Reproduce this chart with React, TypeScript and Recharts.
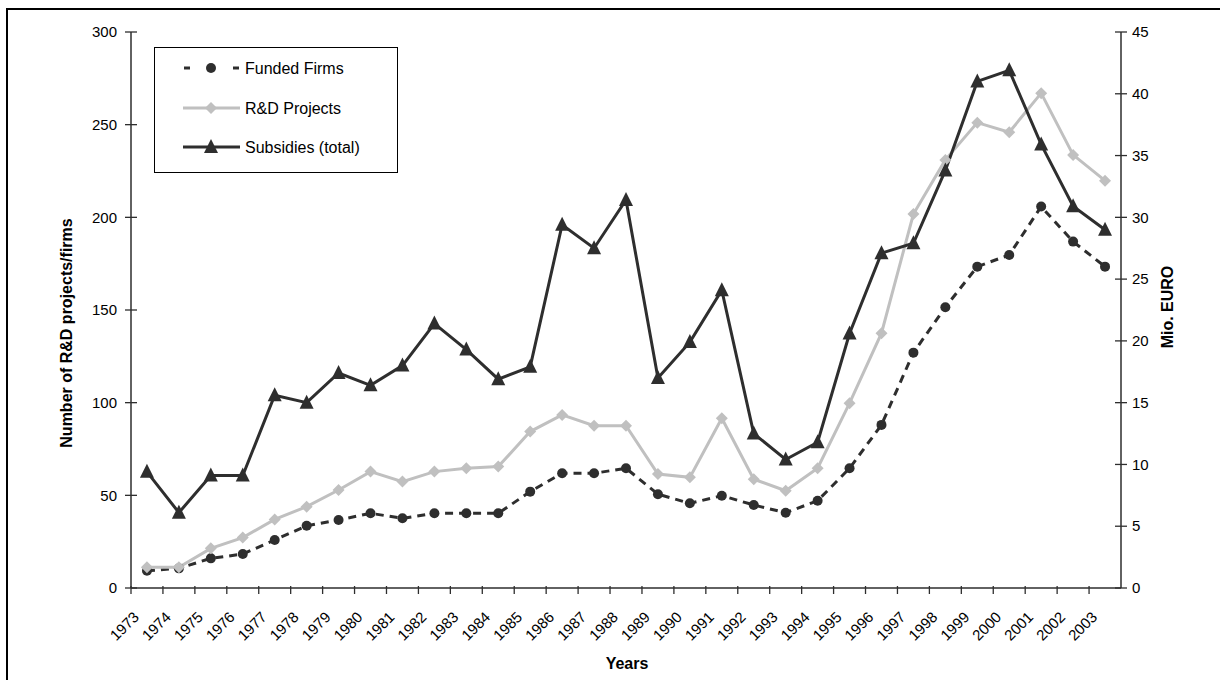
import { LineChart, Line, XAxis, YAxis } from "recharts";

const YEARS = [
  "1973", "1974", "1975", "1976", "1977", "1978", "1979", "1980", "1981", "1982", "1983",
  "1984", "1985", "1986", "1987", "1988", "1989", "1990", "1991", "1992", "1993", "1994",
  "1995", "1996", "1997", "1998", "1999", "2000", "2001", "2002", "2003",
];

// left axis: number of firms / projects
const FUNDED_FIRMS = [
  9.3, 10.6, 16, 18.3, 25.9, 33.6, 36.7, 40.3, 37.6, 40.3, 40.3, 40.3, 52, 61.9, 61.9, 64.6,
  50.6, 45.7, 49.8, 44.8, 40.6, 47.1, 64.6, 88, 127, 151.5, 173.4, 179.7, 205.8, 186.9, 173.4,
];
const RD_PROJECTS = [
  11.2, 11.2, 21.4, 27.2, 37, 43.9, 52.9, 62.8, 57.4, 62.8, 64.6, 65.5, 84.4, 93.4, 87.6, 87.6,
  61.5, 59.7, 91.6, 58.7, 52.5, 64.6, 99.7, 137.5, 201.8, 231, 251.1, 245.9, 267, 233.7, 219.8,
];
// right axis: Mio. EURO
const SUBSIDIES = [
  9.4, 6.1, 9.1, 9.1, 15.6, 15.0, 17.4, 16.4, 18.0, 21.4, 19.3, 16.9, 17.9, 29.4, 27.5, 31.4,
  17.0, 19.9, 24.1, 12.5, 10.4, 11.8, 20.6, 27.1, 27.9, 33.8, 41.0, 41.9, 35.9, 30.9, 29.0,
];

const LEFT_TICKS = [0, 50, 100, 150, 200, 250, 300];
const RIGHT_TICKS = [0, 5, 10, 15, 20, 25, 30, 35, 40, 45];

const data = YEARS.map((year, i) => ({
  year,
  funded: FUNDED_FIRMS[i],
  projects: RD_PROJECTS[i],
  subsidies: SUBSIDIES[i],
}));

const FONT = "'Liberation Sans', Arial, sans-serif";
const DARK = "#2e2e2e";
const GRAY = "#c0c0c0";

const W = 1220;
const H = 680;
const MARGIN = { top: 32, right: 39, left: 71, bottom: 22 };
const PLOT_LEFT = 131;
const PLOT_RIGHT = 1121;
const PLOT_BOTTOM = 588;
const STEP = (PLOT_RIGHT - PLOT_LEFT) / YEARS.length;

const CircleDot = (p: any) =>
  p.cx == null ? null : <circle key={p.key} cx={p.cx} cy={p.cy} r={5} fill={DARK} />;

const DiamondDot = (p: any) => {
  if (p.cx == null) return null;
  const s = 6;
  return (
    <path
      key={p.key}
      d={`M${p.cx},${p.cy - s}L${p.cx + s},${p.cy}L${p.cx},${p.cy + s}L${p.cx - s},${p.cy}Z`}
      fill={GRAY}
    />
  );
};

const TriangleDot = (p: any) => {
  if (p.cx == null) return null;
  const s = 7;
  return (
    <path
      key={p.key}
      d={`M${p.cx},${p.cy - s - 1}L${p.cx + s},${p.cy + s - 1}L${p.cx - s},${p.cy + s - 1}Z`}
      fill={DARK}
    />
  );
};

function YearTick({ x, payload }: any) {
  const tx = x - 7;
  const ty = 618;
  return (
    <g>
      <line x1={x - STEP / 2} x2={x - STEP / 2} y1={PLOT_BOTTOM - 2} y2={PLOT_BOTTOM + 6} stroke={DARK} strokeWidth={1.3} />
      <text
        x={tx}
        y={ty}
        transform={`rotate(-45, ${tx}, ${ty})`}
        textAnchor="end"
        fontSize={15}
        fontFamily={FONT}
        fill="#000"
      >
        {payload.value}
      </text>
    </g>
  );
}

function LeftTick({ y, payload }: any) {
  return (
    <g>
      <line x1={PLOT_LEFT - 6} x2={PLOT_LEFT + 6} y1={y} y2={y} stroke={DARK} strokeWidth={1.3} />
      <text x={117} y={y} dy="0.35em" textAnchor="end" fontSize={15} fontFamily={FONT} fill="#000">
        {payload.value}
      </text>
    </g>
  );
}

function RightTick({ y, payload }: any) {
  return (
    <g>
      <line x1={PLOT_RIGHT - 6} x2={PLOT_RIGHT + 6} y1={y} y2={y} stroke={DARK} strokeWidth={1.3} />
      <text x={1132} y={y} dy="0.35em" textAnchor="start" fontSize={15} fontFamily={FONT} fill="#000">
        {payload.value}
      </text>
    </g>
  );
}

function LegendBox() {
  const row = (y: number, sample: any, label: string) => (
    <g>
      {sample(y)}
      <text x={91} y={y} dy="0.35em" fontSize={16} fontFamily={FONT} fill="#000">
        {label}
      </text>
    </g>
  );
  return (
    <svg width={244} height={126} style={{ display: "block" }}>
      <rect x={0.5} y={0.5} width={243} height={125} fill="#fff" stroke="#000" strokeWidth={1} />
      {row(
        21,
        (y: number) => (
          <g>
            <line x1={30} x2={36} y1={y} y2={y} stroke={DARK} strokeWidth={3} />
            <circle cx={57} cy={y} r={5} fill={DARK} />
            <line x1={79} x2={85} y1={y} y2={y} stroke={DARK} strokeWidth={3} />
          </g>
        ),
        "Funded Firms"
      )}
      {row(
        61,
        (y: number) => (
          <g>
            <line x1={29} x2={86} y1={y} y2={y} stroke={GRAY} strokeWidth={3} />
            <path d={`M57,${y - 6}L63,${y}L57,${y + 6}L51,${y}Z`} fill={GRAY} />
          </g>
        ),
        "R&D Projects"
      )}
      {row(
        100,
        (y: number) => (
          <g>
            <line x1={29} x2={86} y1={y} y2={y} stroke={DARK} strokeWidth={3} />
            <path d={`M57,${y - 8}L64,${y + 6}L50,${y + 6}Z`} fill={DARK} />
          </g>
        ),
        "Subsidies (total)"
      )}
    </svg>
  );
}

export default function App() {
  return (
    <div style={{ position: "absolute", left: 0, top: 0, width: W, height: H, overflow: "hidden", background: "#fff" }}>
      <div
        style={{
          position: "absolute",
          left: 6,
          top: 8,
          width: W,
          height: H,
          borderLeft: "2px solid #000",
          borderTop: "2px solid #000",
        }}
      />
      <div style={{ position: "absolute", left: 0, top: 0 }}>
        <LineChart width={W} height={H} data={data} margin={MARGIN}>
          <XAxis
            dataKey="year"
            scale="band"
            height={70}
            interval={0}
            tickLine={false}
            axisLine={{ stroke: DARK, strokeWidth: 1.5 }}
            tick={<YearTick />}
            label={() => (
              <text x={627} y={669} textAnchor="middle" fontSize={16} fontWeight="bold" fontFamily={FONT} fill="#000">
                Years
              </text>
            )}
          />
          <YAxis
            yAxisId="left"
            domain={[0, 300]}
            ticks={LEFT_TICKS}
            width={60}
            tickLine={false}
            axisLine={{ stroke: DARK, strokeWidth: 1.5 }}
            tick={<LeftTick />}
            label={() => (
              <text
                x={72}
                y={333}
                transform="rotate(-90, 72, 333)"
                textAnchor="middle"
                fontSize={16}
                fontWeight="bold"
                fontFamily={FONT}
                fill="#000"
              >
                Number of R&amp;D projects/firms
              </text>
            )}
          />
          <YAxis
            yAxisId="right"
            orientation="right"
            domain={[0, 45]}
            ticks={RIGHT_TICKS}
            width={60}
            tickLine={false}
            axisLine={{ stroke: DARK, strokeWidth: 1.5 }}
            tick={<RightTick />}
            label={() => (
              <text
                x={1173}
                y={307}
                transform="rotate(-90, 1173, 307)"
                textAnchor="middle"
                fontSize={16}
                fontWeight="bold"
                fontFamily={FONT}
                fill="#000"
              >
                Mio. EURO
              </text>
            )}
          />
          <Line
            yAxisId="left"
            dataKey="funded"
            name="Funded Firms"
            type="linear"
            stroke={DARK}
            strokeWidth={3}
            strokeDasharray="8 6"
            dot={CircleDot}
            activeDot={false}
            isAnimationActive={false}
          />
          <Line
            yAxisId="left"
            dataKey="projects"
            name="R&D Projects"
            type="linear"
            stroke={GRAY}
            strokeWidth={3}
            dot={DiamondDot}
            activeDot={false}
            isAnimationActive={false}
          />
          <Line
            yAxisId="right"
            dataKey="subsidies"
            name="Subsidies (total)"
            type="linear"
            stroke={DARK}
            strokeWidth={3}
            dot={TriangleDot}
            activeDot={false}
            isAnimationActive={false}
          />
        </LineChart>
      </div>
      <div style={{ position: "absolute", left: 154, top: 47 }}>
        <LegendBox />
      </div>
    </div>
  );
}
